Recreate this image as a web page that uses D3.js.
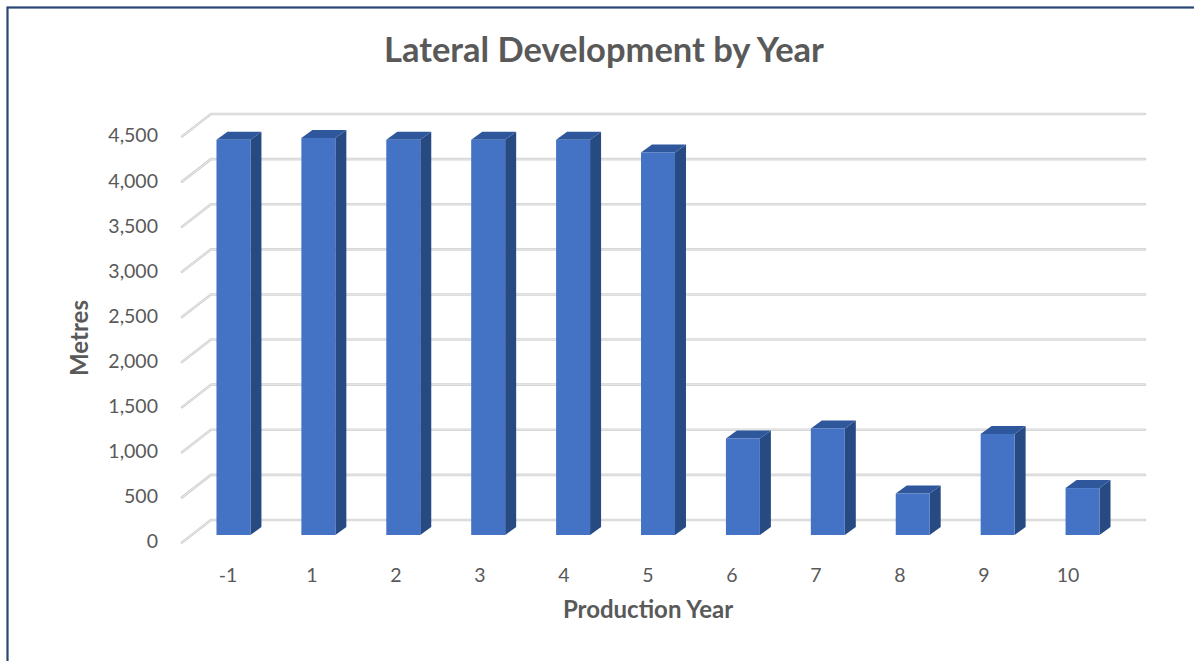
<!DOCTYPE html>
<html>
<head>
<meta charset="utf-8">
<script src="https://cdn.jsdelivr.net/npm/d3@7"></script>
<style>
  html, body { margin: 0; padding: 0; background: #fff; }
  svg { display: block; }
  text { font-family: Lato, "Open Sans", "Liberation Sans", sans-serif; }
</style>
</head>
<body>
<svg id="chart" width="1194" height="661"></svg>
<script>
// Lateral development (metres) per production year
const categories = ["-1", "1", "2", "3", "4", "5", "6", "7", "8", "9", "10"];
const metres = [4380, 4400, 4380, 4380, 4380, 4240, 1070, 1180, 460, 1120, 520];
const yTicks = [0, 500, 1000, 1500, 2000, 2500, 3000, 3500, 4000, 4500];

const svg = d3.select("#chart");

// Outer frame
svg.append("rect")
  .attr("x", 7.5).attr("y", 7.5)
  .attr("width", 1400).attr("height", 900)
  .attr("fill", "none")
  .attr("stroke", "#2a4675")
  .attr("stroke-width", 2.2);

// Pseudo-3D geometry: front edge of the floor, back wall is offset by depth
const depthX = 29, depthY = -22.5;
const frontLeft = 182, frontRight = 1116;
const floorFront = 542.5;

const y = d3.scaleLinear().domain([0, 4500]).range([floorFront, floorFront - 406]);
const x = d3.scaleBand().domain(categories).range([frontLeft, frontRight]);
const xLabel = d3.scaleBand().domain(categories).range([186, 1110]);

// Gridlines: left side-wall diagonal + back wall horizontal
const grid = svg.append("g").attr("class", "grid");
yTicks.forEach(t => {
  const fy = y(t);
  const d = `M${frontLeft},${fy} L${frontLeft + depthX},${fy + depthY} L${frontRight + depthX},${fy + depthY}`;
  grid.append("path")
    .attr("d", d)
    .attr("fill", "none")
    .attr("stroke", "#d3d3d3")
    .attr("stroke-width", 2.6)
    .attr("stroke-linejoin", "round")
    .attr("stroke-linecap", "round");
  grid.append("path")
    .attr("d", d)
    .attr("fill", "none")
    .attr("stroke", "#ececec")
    .attr("stroke-width", 0.8);
});

// Y axis tick labels
svg.append("g").selectAll("text")
  .data(yTicks)
  .join("text")
  .attr("x", 158)
  .attr("y", d => y(d) + 1)
  .attr("text-anchor", "end")
  .attr("dominant-baseline", "middle")
  .attr("fill", "#595959")
  .attr("font-size", 19.5)
  .text(d => d3.format(",")(d));

// Bars as 3D columns: front face, top and right side
const barW = x.bandwidth() * 0.4;
const offX = 9, offY = -7.5;       // front face sits slightly inside the floor
const dX = 11, dY = -8;            // column depth
const bars = svg.append("g").selectAll("g")
  .data(categories.map((c, i) => ({ c, v: metres[i] })))
  .join("g");

bars.each(function(d) {
  const g = d3.select(this);
  const x0 = x(d.c) + x.bandwidth() / 2 - barW / 2 + offX;
  const x1 = x0 + barW;
  const yb = y(0) + offY;
  const yt = y(d.v) + offY;
  g.append("path")
    .attr("d", `M${x1},${yt} L${x1 + dX},${yt + dY} L${x1 + dX},${yb + dY} L${x1},${yb} Z`)
    .attr("fill", "#284a83");
  g.append("path")
    .attr("d", `M${x0},${yt} L${x0 + dX},${yt + dY} L${x1 + dX},${yt + dY} L${x1},${yt} Z`)
    .attr("fill", "#2f579c");
  g.append("rect")
    .attr("x", x0).attr("y", yt)
    .attr("width", barW).attr("height", yb - yt)
    .attr("fill", "#4472c4");
});

// X axis labels
svg.append("g").selectAll("text")
  .data(categories)
  .join("text")
  .attr("x", d => xLabel(d) + xLabel.bandwidth() / 2)
  .attr("y", 577)
  .attr("text-anchor", "middle")
  .attr("dominant-baseline", "middle")
  .attr("fill", "#595959")
  .attr("font-size", 19.5)
  .text(d => d);

// Titles
svg.append("text")
  .attr("x", 604).attr("y", 53)
  .attr("text-anchor", "middle")
  .attr("dominant-baseline", "middle")
  .attr("fill", "#595959")
  .attr("font-size", 34.5)
  .attr("font-weight", "bold")
  .text("Lateral Development by Year");

svg.append("text")
  .attr("x", 648).attr("y", 612)
  .attr("text-anchor", "middle")
  .attr("dominant-baseline", "middle")
  .attr("fill", "#595959")
  .attr("font-size", 24)
  .attr("font-weight", "bold")
  .text("Production Year");

svg.append("text")
  .attr("transform", "translate(82,338) rotate(-90)")
  .attr("text-anchor", "middle")
  .attr("dominant-baseline", "middle")
  .attr("fill", "#595959")
  .attr("font-size", 24)
  .attr("font-weight", "bold")
  .text("Metres");
</script>
</body>
</html>
